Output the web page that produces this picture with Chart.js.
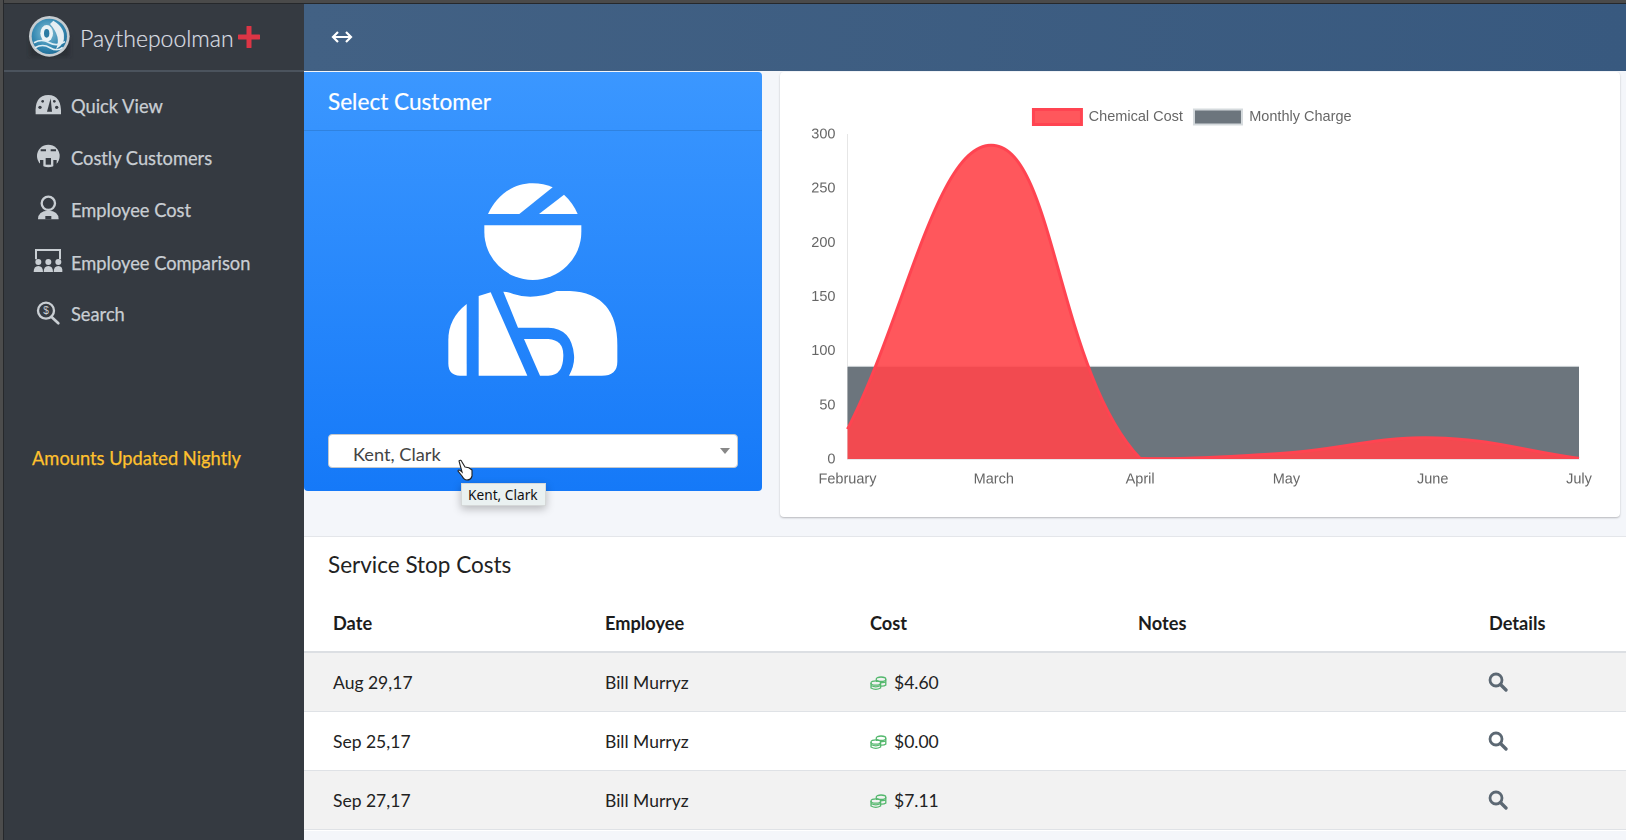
<!DOCTYPE html>
<html><head><meta charset="utf-8">
<script src="https://cdn.jsdelivr.net/npm/chart.js@4"></script>
<style>
html,body{margin:0;padding:0;width:1626px;height:840px;overflow:hidden;background:#f4f6fa;font-family:"Lato","Noto Sans",sans-serif}
.a{position:absolute;white-space:nowrap}
#frame{left:0;top:0;width:1626px;height:840px;overflow:hidden}
#topedge{left:0;top:0;width:1626px;height:3px;background:#4a4a4a;border-bottom:1px solid #26282b}
#leftedge{left:0;top:0;width:3px;height:840px;background:#4c4c4c;border-right:1px solid #26282b}
#side{left:4px;top:4px;width:300px;height:836px;background:#353a41}
#bar{left:304px;top:4px;width:1322px;height:67px;background:linear-gradient(90deg,#426184,#38597f)}
#divider{left:4px;top:70px;width:300px;height:2px;background:#4b535d}
.menu{left:71px;font-size:18.3px;color:#c9ced3;line-height:24px;-webkit-text-stroke:.25px currentColor}
#blue{left:304px;top:72px;width:458px;height:419px;border-radius:0 4px 4px 4px;background:linear-gradient(180deg,#3b97ff,#1579f8)}
#blueline{left:304px;top:130px;width:458px;height:1px;background:#2f82e0}
#seltitle{left:328px;top:87px;font-size:22.6px;color:#fff;line-height:30px;-webkit-text-stroke:.2px #fff}
#select{left:328px;top:434px;width:408px;height:32px;background:#fff;border:1px solid #c4c8cc;border-radius:4px}
#seltext{left:353px;top:441px;font-size:18.2px;color:#444;line-height:26px}
#arrow{left:720px;top:448px;width:0;height:0;border-left:5px solid transparent;border-right:5px solid transparent;border-top:6px solid #888}
#tip{left:461px;top:483px;width:83px;height:21px;background:#eaf1f1;border:1px solid #d5d8d8;box-shadow:0 3px 8px rgba(0,0,0,.25);font-size:13.7px;line-height:21px;color:#111;text-indent:6px;font-family:"Noto Sans"}
#card{left:780px;top:72px;width:840px;height:445px;background:#fff;border-radius:4px;box-shadow:0 1px 2px rgba(0,0,0,.25)}
#chartwrap{left:780px;top:72px;width:840px;height:445px}
#tbl{left:304px;top:536px;width:1322px;height:294px;background:#fff;border-top:1px solid #e4e6ea}
#tbltitle{left:328px;top:550px;font-size:22.5px;color:#222;line-height:30px}
.th{top:611px;font-size:18.2px;font-weight:700;color:#1c1c1c;line-height:24px}
.row{left:304px;width:1322px;height:58px;border-bottom:1px solid #dfe2e6}
.td{font-size:17.5px;color:#222;line-height:24px}
</style></head><body>
<div id="frame" class="a">
<div id="side" class="a"></div>
<div id="bar" class="a"></div>
<div id="topedge" class="a"></div><div id="leftedge" class="a"></div>
<div id="divider" class="a"></div>

<svg class="a" style="left:0;top:0" width="320" height="480" viewBox="0 0 960 1440">
<defs>
<radialGradient id="lg" cx=".45" cy=".4" r=".65"><stop offset="0" stop-color="#8cc2d6"/><stop offset=".6" stop-color="#3a8db5"/><stop offset="1" stop-color="#1d6a94"/></radialGradient>
<filter id="bl"><feGaussianBlur stdDeviation="7"/></filter>
</defs>
<rect x="90" y="110" width="118" height="60" fill="#22262b" opacity=".55" filter="url(#bl)"/>
<circle cx="148" cy="109" r="61" fill="#c6ccd0"/>
<circle cx="148" cy="109" r="53" fill="url(#lg)"/>
<path d="M160 62Q200 85 190 125Q182 140 168 148Q185 110 150 72Z" fill="#e6eef2"/>
<ellipse cx="140" cy="100" rx="19" ry="25" fill="#eaf3f6"/><ellipse cx="140" cy="100" rx="8" ry="13" fill="#2a7ba3"/>
<path d="M102 128Q125 115 148 128T195 125M105 143Q128 130 150 143T188 142" stroke="#dfeef4" stroke-width="5" fill="none"/>
<g fill="#c9ced3">
<path d="M107 343Q103 285 145 285Q185 285 183 343Z"/>
<circle cx="145" cy="468" r="34"/>
<circle cx="145" cy="610" r="20" fill="none" stroke="#c9ced3" stroke-width="7"/>
<path d="M114 658Q114 632 145 632Q176 632 176 658Z"/>
<path d="M108 778V750H180V778" fill="none" stroke="#c9ced3" stroke-width="6"/>
<circle cx="115" cy="786" r="9"/><circle cx="145" cy="786" r="9"/><circle cx="175" cy="786" r="9"/>
<path d="M101 816Q101 798 115 798Q129 798 129 816ZM131 816Q131 798 145 798Q159 798 159 816ZM161 816Q161 798 175 798Q189 798 187 816Z"/>
<circle cx="138" cy="932" r="24" fill="none" stroke="#c9ced3" stroke-width="7"/>
<path d="M154 950L175 970" stroke="#c9ced3" stroke-width="8" stroke-linecap="round"/>
</g>
<g fill="#353a41">
<circle cx="120" cy="322" r="5"/><circle cx="170" cy="322" r="5"/><circle cx="128" cy="304" r="4"/><circle cx="163" cy="304" r="4"/><path d="M141 335L152 295L156 335Z"/>
<path d="M120 480H130V500H120ZM160 480H170V500H160Z"/><path d="M122 448h16v6h-16ZM152 448h16v6h-16Z"/><rect x="137" y="474" width="16" height="20"/>
<rect x="134" y="603" width="22" height="12" rx="5"/><rect x="136" y="648" width="18" height="10"/>
</g>
<text x="138" y="943" font-size="30" font-family="Liberation Sans" fill="#c9ced3" text-anchor="middle">$</text>
</svg>
<div class="a" style="left:80px;top:20.500px;font-size:23px;font-weight:300;color:#dcdfe3;line-height:34px;-webkit-text-stroke:.2px #dcdfe3">Paythepoolman</div>
<svg class="a" style="left:238px;top:26px" width="22" height="22"><path d="M11 1V21M1 11H21" stroke="#dc3545" stroke-width="5" stroke-linecap="round"/></svg>
<div class="a menu" style="top:94px">Quick View</div>
<div class="a menu" style="top:146px">Costly Customers</div>
<div class="a menu" style="top:198px">Employee Cost</div>
<div class="a menu" style="top:250.500px">Employee Comparison</div>
<div class="a menu" style="top:302px">Search</div>
<div class="a menu" style="left:32px;top:446px;color:#ffc12e">Amounts Updated Nightly</div>

<svg class="a" style="left:330px;top:28px" width="24" height="18"><path d="M3 9H21M8 4L3 9L8 14M16 4L21 9L16 14" stroke="#fff" stroke-width="2.200" fill="none"/></svg>

<div id="blue" class="a"></div><div id="blueline" class="a"></div>
<div id="seltitle" class="a">Select Customer</div>
<svg class="a" style="left:300px;top:60px" width="480" height="480" viewBox="0 0 1440 1440" fill="#fff">
<path d="M564 462C590 405 640 370 698 370C720 370 740 374 758 382L658 462Z"/>
<path d="M792 404C810 420 824 440 833 462L717 462Z"/>
<path d="M553 496H844V515A145.500 145 0 0 1 553 515Z"/>
<path d="M500 732V947H480Q445 947 445 910V840Q445 775 500 732Z"/>
<path d="M536 708L572 697L682 947H536Z"/>
<path d="M610 695Q625 695 640 702Q700 722 770 693H810Q952 700 952 855V905Q952 947 905 947H807Q825 915 822 885Q815 805 745 803H654Z"/>
<path d="M672 837H745Q790 840 790 885Q790 947 745 947H720Z"/>
</svg>
<div id="select" class="a"></div>
<div id="seltext" class="a">Kent, Clark</div>
<div id="arrow" class="a"></div>
<div id="tip" class="a">Kent, Clark</div>
<svg class="a" style="left:456px;top:459px" width="18" height="24" viewBox="0 0 18 24"><path d="M3 2Q5 0 6 3L9 8Q13 8 16 11L16 17Q15 21 11 21Q8 21 6 17L2 12Q2 10 5 12L6 13Z" fill="#fff" stroke="#222" stroke-width="1.100"/></svg>

<div id="card" class="a"></div>
<div id="chartwrap" class="a"><canvas id="c" width="840" height="445" style="width:840px;height:445px"></canvas></div>

<div id="tbl" class="a"></div>
<div id="tbltitle" class="a">Service Stop Costs</div>
<div class="a th" style="left:333px">Date</div>
<div class="a th" style="left:605px">Employee</div>
<div class="a th" style="left:870px">Cost</div>
<div class="a th" style="left:1138px">Notes</div>
<div class="a th" style="left:1489px">Details</div>
<div class="a" style="left:304px;top:651px;width:1322px;height:2px;background:#dcdfe3"></div>
<div class="a row" style="top:653px;background:#f2f2f2"></div>
<div class="a row" style="top:712px;background:#fff"></div>
<div class="a row" style="top:771px;background:#f2f2f2"></div>
<div id="rows"></div>
</div>
<script>
const months = ["February","March","April","May","June","July"];
const chemicalCost = [28,290,1,6,20,1];
const monthlyCharge = [86,86,86,86,86,86];
const yTicks = [0,50,100,150,200,250,300];
const rowDates = ["Aug 29,17","Sep 25,17","Sep 27,17"];
const rowEmployees = ["Bill Murryz","Bill Murryz","Bill Murryz"];
const rowCosts = ["$4.60","$0.00","$7.11"];

const rowsEl=document.getElementById('rows');
rowDates.forEach((d,i)=>{
  const y=671+i*59;
  rowsEl.insertAdjacentHTML('beforeend',
  `<div class="a td" style="left:333px;top:${y}px">${d}</div>
   <div class="a td" style="left:605px;top:${y}px">${rowEmployees[i]}</div>
   <svg class="a" style="left:870px;top:${y+5}px" width="17" height="15" viewBox="0 0 17 15"><g fill="none" stroke="#55b86e" stroke-width="1.300"><ellipse cx="11" cy="3.200" rx="4.800" ry="2.200"/><path d="M15.800 3.200V9.500M6.500 4V6"/><path d="M10 10Q14 10.500 15.800 9M11 6.500Q14 6.800 15.800 6"/><ellipse cx="5.800" cy="7" rx="4.800" ry="2.200"/><path d="M1 7V12Q5.800 14.800 10.600 12V7M1 9.500Q5.800 12.300 10.600 9.500"/></g></svg>
   <div class="a td" style="left:894px;top:${y}px">${rowCosts[i]}</div>
   <svg class="a" style="left:1488px;top:${y+1}px" width="20" height="20" viewBox="0 0 20 20"><circle cx="8" cy="8" r="6" fill="none" stroke="#5c6873" stroke-width="2.800"/><path d="M12.500 12.500L18 18" stroke="#5c6873" stroke-width="3.300" stroke-linecap="round"/></svg>`);
});

const font={family:'"Liberation Sans",Helvetica,Arial,sans-serif',size:14.5};
new Chart(document.getElementById('c'),{
  type:'line',
  data:{labels:months,datasets:[
    {label:'Chemical Cost',data:chemicalCost,fill:true,tension:.4,pointRadius:0,borderWidth:3,borderColor:'#ff4451',backgroundColor:'rgba(255,70,76,0.91)'},
    {label:'Monthly Charge',data:monthlyCharge,fill:true,tension:.4,pointRadius:0,borderWidth:1,borderColor:'#d5dadd',backgroundColor:'#6c757d'}
  ]},
  options:{
    responsive:false,animation:false,devicePixelRatio:2,
    layout:{padding:{top:26.5,right:41,left:26,bottom:0}},
    plugins:{tooltip:{enabled:false},
      legend:{position:'top',labels:{boxWidth:48,boxHeight:15,padding:11,color:'#666',font:font,
        generateLabels(c){return Chart.defaults.plugins.legend.labels.generateLabels(c).map(l=>({...l,lineWidth:l.datasetIndex===1?2:3}));}}}},
    scales:{
      x:{grid:{display:false,drawTicks:false},
         border:{display:true,color:'#e6e8ea',width:1,z:1},
         ticks:{color:'#666',font:font,maxRotation:0,padding:11.5,autoSkip:false},
         afterFit(s){s.height=57.5;}},
      y:{min:0,max:300,grid:{display:false,drawTicks:false},border:{display:true,color:'#e6e6e6',width:1},
         afterBuildTicks(s){s.ticks=yTicks.map(v=>({value:v}));},
         ticks:{color:'#666',font:font,padding:12},
         afterFit(s){s.width=41.5;}}
    }
  }
});
</script>
</body></html>
